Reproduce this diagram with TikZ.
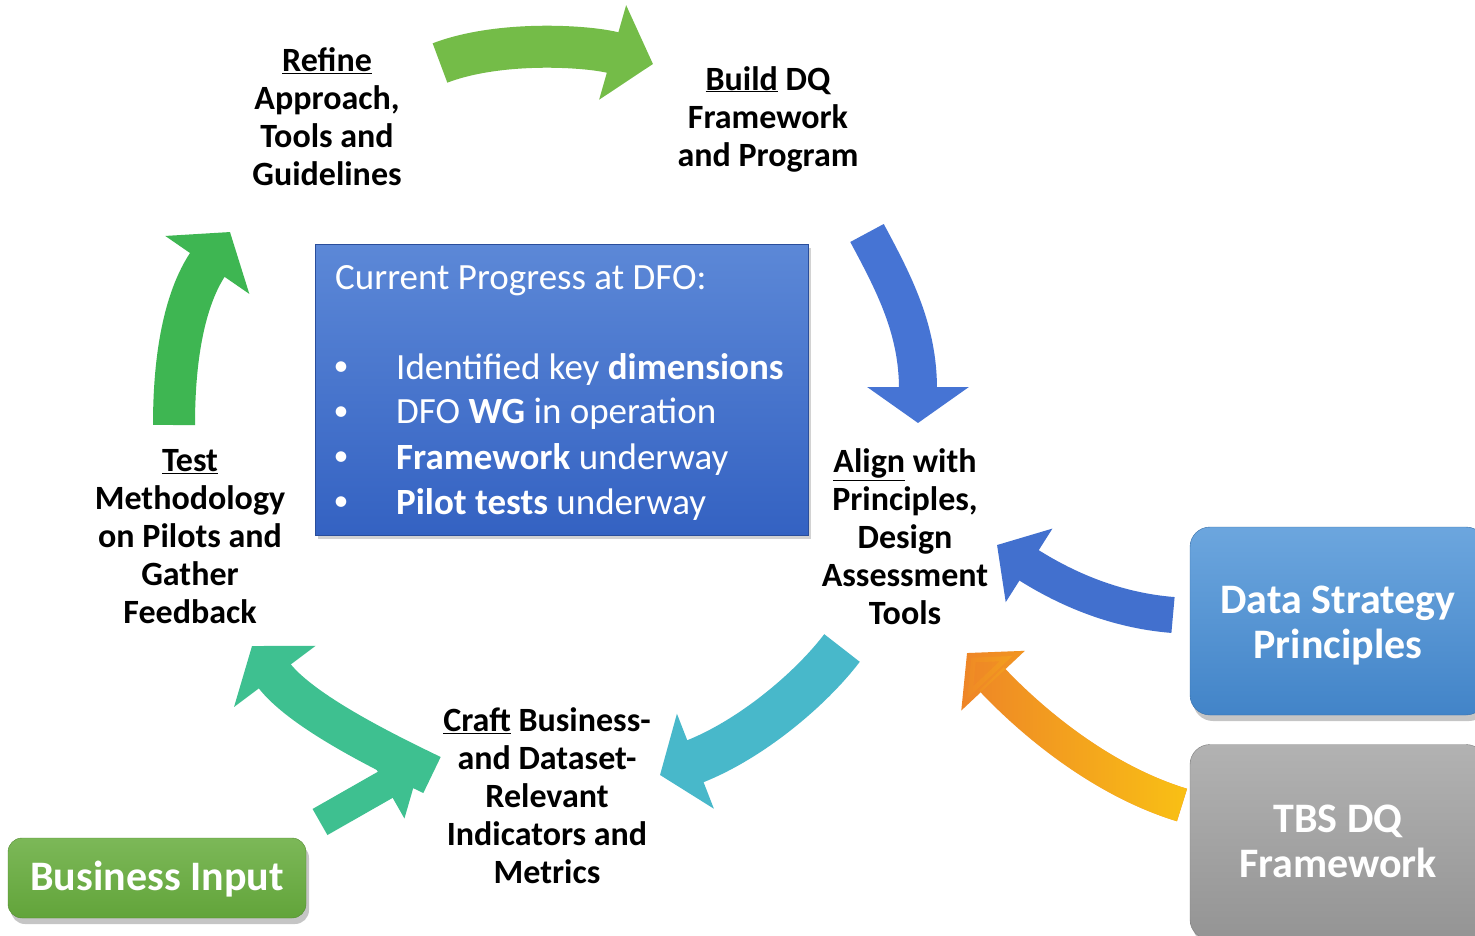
\documentclass[tikz,border=0pt]{standalone}
\usepackage{fontspec}
\setmainfont{Carlito}
\usetikzlibrary{arrows.meta,shadows,fadings}

\definecolor{progtop}{RGB}{92,136,215}
\definecolor{progbot}{RGB}{52,98,194}
\definecolor{dsptop}{RGB}{108,166,222}
\definecolor{dspbot}{RGB}{66,132,200}
\definecolor{tbstop}{RGB}{178,178,178}
\definecolor{tbsbot}{RGB}{148,148,148}
\definecolor{biztop}{RGB}{124,184,88}
\definecolor{bizbot}{RGB}{98,164,58}
\definecolor{refinegreen}{RGB}{116,188,72}
\definecolor{testgreen}{RGB}{62,182,82}
\definecolor{buildblue}{RGB}{70,116,212}
\definecolor{aligncyan}{RGB}{72,184,202}
\definecolor{craftteal}{RGB}{62,192,144}
\definecolor{dspblue}{RGB}{66,112,206}
\definecolor{tbsorange}{RGB}{238,130,40}
\definecolor{tbsyellow}{RGB}{250,196,20}

\tikzfading[name=tailfade, left color=transparent!100, right color=transparent!0]

\tikzset{
  steplabel/.style={align=center, inner sep=0pt, font=\bfseries\fontsize{34}{38}\selectfont},
  sidebox/.style={rounded corners=20pt, inner sep=0pt,
    drop shadow={shadow xshift=3pt, shadow yshift=-6pt, opacity=0.45}},
  boxtext/.style={align=center, inner sep=0pt, text=white, font=\bfseries\fontsize{42}{45}\selectfont},
  progtext/.style={inner sep=0pt, text=white, font=\fontsize{37}{45}\selectfont},
  curvearrow/.style n args={3}{line width=#1, -{Triangle[length=#2, width=#3]}}
}

\begin{document}
\begin{tikzpicture}[x=1pt,y=-1pt]
\useasboundingbox (0,0) rectangle (1475,936);
\fill[white] (0,0) rectangle (1475,936);

% cycle steps
\node[steplabel] (refine) at (327,117) {\underline{Refine}\\Approach,\\Tools and\\Guidelines};
\node[steplabel] (build) at (768,119) {\underline{Build} DQ\\Framework\\and Program};
\node[steplabel] (align) at (905,537) {\underline{Align} with\\Principles,\\Design\\Assessment\\Tools};
\node[steplabel] (craft) at (547,796) {\underline{Craft} Business-\\and Dataset-\\Relevant\\Indicators and\\Metrics};
\node[steplabel] (test) at (190,537) {\underline{Test}\\Methodology\\on Pilots and\\Gather\\Feedback};

% progress box
\node[minimum width=493pt, minimum height=291pt, inner sep=0pt,
  top color=progtop, bottom color=progbot, draw=progbot!80!black, line width=0.6pt,
  drop shadow={shadow xshift=3pt, shadow yshift=-4pt, opacity=0.35}] (progress) at (561.5,389.5) {};
\node[progtext, anchor=west] (progtitle) at (335,281) {Current Progress at DFO:};
\foreach \yy/\txt [count=\i] in {369/{Identified key \textbf{dimensions}},
    414/{DFO \textbf{WG} in operation},
    459/{\textbf{Framework} underway},
    504/{\textbf{Pilot tests} underway}} {
  \node[progtext, font=\fontsize{30}{38}\selectfont] (dot\i) at (341,\yy) {\textbullet};
  \node[progtext, anchor=west] (item\i) at (396,\yy) {\txt};
}

% input boxes
\node[sidebox, minimum width=296pt, minimum height=188pt, top color=dsptop, bottom color=dspbot,
  draw=dspbot!85!black] (dsp) at (1338,621) {};
\node[boxtext] (dsptext) at (1338,626) {Data Strategy\\Principles};
\node[sidebox, minimum width=296pt, minimum height=195pt, top color=tbstop, bottom color=tbsbot,
  draw=tbsbot!85!black] (tbs) at (1338,842) {};
\node[boxtext] (tbstext) at (1338,841) {TBS DQ\\Framework};
\node[sidebox, minimum width=298pt, minimum height=80pt, rounded corners=14pt, top color=biztop,
  bottom color=bizbot, draw=bizbot!85!black] (biz) at (157,878) {};
\node[boxtext] (biztext) at (157,879) {Business Input};

% arrow ends
\coordinate (refineOut) at (440,63);
\coordinate (buildIn) at (653,64);
\coordinate (buildOut) at (867,233);
\coordinate (alignIn) at (918,423);
\coordinate (alignOut) at (842,648);
\coordinate (craftIn) at (660,775);
\coordinate (craftOut) at (432,775);
\coordinate (testIn) at (252,646);
\coordinate (testOut) at (174,425);
\coordinate (refineIn) at (230,232);
\coordinate (bizOut) at (320,822);
\coordinate (bizIn) at (420,765);
\coordinate (dspOut) at (1173,615);
\coordinate (dspIn) at (997,545);
\coordinate (tbsOut) at (1182,805);
\coordinate (tbsIn) at (967,653);

% cycle arrows
\draw[refinegreen, curvearrow={42pt}{42pt}{96pt}] (refineOut) .. controls (500,40) and (590,46) .. (buildIn);
\draw[buildblue, curvearrow={38pt}{36pt}{100pt}] (buildOut) .. controls (895,285) and (918,330) .. (alignIn);
\draw[aligncyan, curvearrow={45pt}{38pt}{100pt}] (alignOut) .. controls (810,690) and (750,740) .. (craftIn);
\draw[craftteal, curvearrow={40pt}{38pt}{100pt}] (craftOut) .. controls (380,750) and (300,710) .. (testIn);
\draw[craftteal, curvearrow={30pt}{40pt}{75pt}] (bizOut) -- (bizIn);
\draw[testgreen, curvearrow={42pt}{40pt}{100pt}] (testOut) .. controls (174,340) and (190,290) .. (refineIn);

% input arrows
\draw[dspblue, curvearrow={36pt}{38pt}{85pt}] (dspOut) .. controls (1110,610) and (1060,585) .. (dspIn);
\draw[tbsorange, curvearrow={34pt}{38pt}{85pt}] (tbsOut) .. controls (1100,780) and (1030,720) .. (tbsIn);
\draw[tbsyellow, path fading=tailfade, curvearrow={34pt}{38pt}{85pt}] (tbsOut) .. controls (1100,780) and (1030,720) .. (tbsIn);
\end{tikzpicture}
\end{document}
